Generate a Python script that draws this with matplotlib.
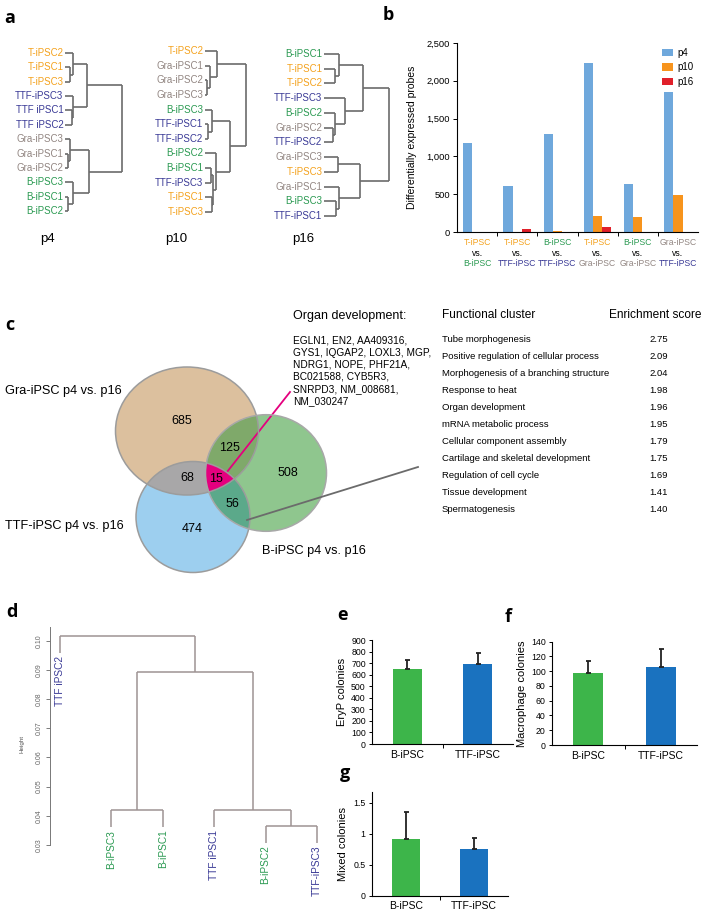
import numpy as np
import matplotlib
matplotlib.use('Agg')
import matplotlib.pyplot as plt
from matplotlib.patches import Ellipse, Polygon, Patch

plt.rcParams['font.family'] = ['Liberation Sans', 'DejaVu Sans']

W, H = 704, 913
fig = plt.figure(figsize=(W / 100, H / 100), dpi=100)


def px_axes(x0, y0, x1, y1):
    return fig.add_axes([x0 / W, 1 - y1 / H, (x1 - x0) / W, (y1 - y0) / H])


ov = px_axes(0, 0, W, H)
ov.set_xlim(0, W)
ov.set_ylim(H, 0)
ov.axis('off')

# ---------------- colours ----------------
C_T, C_TTF, C_GRA, C_B = '#f4a21e', '#3a3a96', '#928682', '#2b9a52'


def name_color(n):
    if n.startswith('TTF'):
        return C_TTF
    if n.startswith('T-'):
        return C_T
    if n.startswith('Gra'):
        return C_GRA
    return C_B

# ---------------- data ----------------
# panel a : dendrograms (left child, right child, merge height)
p4_tree = ((('T-iPSC2', ('T-iPSC1', 'T-iPSC3', 5), 8),
            ('TTF-iPSC3', ('TTF iPSC1', 'TTF iPSC2', 7), 8), 22),
           (('Gra-iPSC3', ('Gra-iPSC1', 'Gra-iPSC2', 3), 5),
            ('B-iPSC3', ('B-iPSC1', 'B-iPSC2', 3), 8), 24), 57)
p10_tree = (('T-iPSC2', ('Gra-iPSC1', ('Gra-iPSC2', 'Gra-iPSC3', 2.3), 5), 12.3),
            (('B-iPSC3', ('TTF-iPSC1', 'TTF-iPSC2', 3.3), 6.7),
             ('B-iPSC2', (('B-iPSC1', 'TTF-iPSC3', 5.7), ('T-iPSC1', 'T-iPSC3', 6.7), 8.3), 11), 25),
            40.7)
p16_tree = ((('B-iPSC1', ('T-iPSC1', 'T-iPSC2', 11), 15),
             ('TTF-iPSC3', ('B-iPSC2', ('Gra-iPSC2', 'TTF-iPSC2', 9), 11), 21), 39),
            (('Gra-iPSC3', 'T-iPSC3', 14),
             ('Gra-iPSC1', ('B-iPSC3', 'TTF-iPSC1', 12), 15), 36), 65)
passages = ['p4', 'p10', 'p16']

# panel b
comp_top = ['T-iPSC', 'T-iPSC', 'B-iPSC', 'T-iPSC', 'B-iPSC', 'Gra-iPSC']
comp_bot = ['B-iPSC', 'TTF-iPSC', 'TTF-iPSC', 'Gra-iPSC', 'Gra-iPSC', 'TTF-iPSC']
probes_p4 = [1175, 610, 1290, 2230, 640, 1850]
probes_p10 = [0, 0, 8, 215, 200, 485]
probes_p16 = [0, 40, 0, 70, 0, 0]

# panel c
venn_counts = {'Gra': 685, 'GraB': 125, 'B': 508, 'GraTTF': 68, 'all': 15, 'TTFB': 56, 'TTF': 474}
venn_sets = ['Gra-iPSC p4 vs. p16', 'TTF-iPSC p4 vs. p16', 'B-iPSC p4 vs. p16']
organ_genes = ['EGLN1, EN2, AA409316,', 'GYS1, IQGAP2, LOXL3, MGP,', 'NDRG1, NOPE, PHF21A,',
               'BC021588, CYB5R3,', 'SNRPD3, NM_008681,', 'NM_030247']
clusters = ['Tube morphogenesis', 'Positive regulation of cellular process',
            'Morphogenesis of a branching structure', 'Response to heat', 'Organ development',
            'mRNA metabolic process', 'Cellular component assembly',
            'Cartilage and skeletal development', 'Regulation of cell cycle',
            'Tissue development', 'Spermatogenesis']
enrichment = [2.75, 2.09, 2.04, 1.98, 1.96, 1.95, 1.79, 1.75, 1.69, 1.41, 1.40]

# panel d
d_tree = ('TTF iPSC2', (('B-iPSC3', 'B-iPSC1', 0.042),
                        ('TTF iPSC1', ('B-iPSC2', 'TTF-iPSC3', 0.0365), 0.042), 0.0892), 0.1018)
d_hang = 0.006
d_ticks = [0.03, 0.04, 0.05, 0.06, 0.07, 0.08, 0.09, 0.10]

# panels e, f, g
lines_cat = ['B-iPSC', 'TTF-iPSC']
eryp = [645, 690]
eryp_err = [85, 100]
macro = [98, 106]
macro_err = [16, 24]
mixed = [0.915, 0.748]
mixed_err = [0.43, 0.18]


# ---------------- dendrogram layout ----------------
def layout(node, leaves, segs, hang=None):
    if isinstance(node, str):
        leaves.append(node)
        return len(leaves) - 1, None
    l, r, h = node
    out = []
    for child in (l, r):
        p, ch = layout(child, leaves, segs, hang)
        if ch is None:
            ch = 0.0 if hang is None else h - hang
            segs.append(('leaf', p, ch, h))
        else:
            segs.append(('link', p, ch, h))
        out.append(p)
    segs.append(('bar', out[0], out[1], h))
    return (out[0] + out[1]) / 2, h


def draw_hdendro(tree, x0, ytop, ybot, xright, lc='#6b6b6b'):
    leaves, segs = [], []
    layout(tree, leaves, segs)
    n = len(leaves)
    dy = (ybot - ytop) / (n - 1)
    ax = px_axes(x0, ytop - dy / 2, xright, ybot + dy / 2)
    ax.set_xlim(0, xright - x0)
    ax.set_ylim(n - 0.5, -0.5)
    ax.axis('off')
    for kind, a, b, c in segs:
        if kind == 'bar':
            ax.plot([c, c], [a, b], color=lc, lw=1.2, clip_on=False, solid_capstyle='butt')
        else:
            ax.plot([b, c], [a, a], color=lc, lw=1.2, clip_on=False, solid_capstyle='butt')
    for i, nm in enumerate(leaves):
        ax.text(-1.5, i, nm, ha='right', va='center', fontsize=7, color=name_color(nm))
    return ax


draw_hdendro(p4_tree, 65, 53, 211, 125)
draw_hdendro(p10_tree, 205, 51, 212, 250)
draw_hdendro(p16_tree, 324, 54, 216, 392)
for t, x in zip(passages, [47.5, 176.5, 303.5]):
    ov.text(x, 239, t, ha='center', va='center', fontsize=9.5)

# ---------------- panel b ----------------
axb = px_axes(457, 43, 698, 232)
xb = np.arange(len(probes_p4))
bw = 0.23
axb.bar(xb - bw, probes_p4, bw, color='#6fa8dc', label='p4')
axb.bar(xb, probes_p10, bw, color='#f7941d', label='p10')
axb.bar(xb + bw, probes_p16, bw, color='#e0202a', label='p16')
axb.set_xlim(-0.5, len(xb) - 0.5)
axb.set_ylim(0, 2500)
axb.set_yticks(np.arange(0, 2501, 500))
axb.set_yticklabels([f'{v:,}' for v in range(0, 2501, 500)])
axb.set_xticks([])
axb.set_xticks(np.arange(0.5, len(xb) - 0.5, 1), minor=True)
axb.tick_params(axis='y', labelsize=6.7, length=3, width=0.7, pad=2)
axb.tick_params(axis='x', which='minor', length=3, width=0.7)
for s in ['top', 'right']:
    axb.spines[s].set_visible(False)
for s in ['left', 'bottom']:
    axb.spines[s].set_linewidth(0.8)
axb.set_ylabel('Differentially expressed probes', fontsize=7.5)
axb.yaxis.set_label_coords(-0.165, 0.5)
axb.legend(loc='upper right', bbox_to_anchor=(1.02, 1.02), frameon=False, fontsize=7,
           handlelength=1.1, handleheight=0.8, labelspacing=0.45, handletextpad=0.5)
tr = axb.get_xaxis_transform()
for i in range(len(xb)):
    axb.text(i, -0.058, comp_top[i], transform=tr, ha='center', va='center', fontsize=6.2,
             color=name_color(comp_top[i]))
    axb.text(i, -0.115, 'vs.', transform=tr, ha='center', va='center', fontsize=6.2)
    axb.text(i, -0.165, comp_bot[i], transform=tr, ha='center', va='center', fontsize=6.2,
             color=name_color(comp_bot[i]))

# ---------------- panel c : Venn ----------------
E_GRA = ((187, 431), 71.5, 64)
E_TTF = ((193, 517), 57, 55.5)
E_B = ((266, 473), 60.5, 58.3)


def region(p, ells, n=720):
    th = np.linspace(0, 2 * np.pi, n)
    dx, dy = np.cos(th), np.sin(th)
    rmin = np.full(n, np.inf)
    for (cx, cy), a, b in ells:
        ux, uy = p[0] - cx, p[1] - cy
        A = (dx / a) ** 2 + (dy / b) ** 2
        B = 2 * (ux * dx / a ** 2 + uy * dy / b ** 2)
        C = (ux / a) ** 2 + (uy / b) ** 2 - 1
        t = (-B + np.sqrt(B * B - 4 * A * C)) / (2 * A)
        rmin = np.minimum(rmin, t)
    return np.column_stack([p[0] + rmin * dx, p[1] + rmin * dy])


for (c, a, b), col in [(E_GRA, '#dcc09e'), (E_TTF, '#9dcfef'), (E_B, '#8fc68e')]:
    ov.add_patch(Ellipse(c, 2 * a, 2 * b, facecolor=col, edgecolor='none', zorder=1))
ov.add_patch(Polygon(region((226, 452), [E_GRA, E_B]), facecolor='#7fa96a', edgecolor='none', zorder=2))
ov.add_patch(Polygon(region((190, 474), [E_GRA, E_TTF]), facecolor='#a8a7a8', edgecolor='none', zorder=2))
ov.add_patch(Polygon(region((229, 495), [E_TTF, E_B]), facecolor='#5ba98a', edgecolor='none', zorder=2))
ov.plot([227, 290], [472, 392], color='#e4007e', lw=1.3, zorder=2.5)
ov.add_patch(Polygon(region((215, 479), [E_GRA, E_TTF, E_B]), facecolor='#e4007e', edgecolor='none', zorder=3))
for (c, a, b), ec in [(E_GRA, '#9c9c9c'), (E_TTF, '#9c9c9c'), (E_B, '#a8a8a8')]:
    ov.add_patch(Ellipse(c, 2 * a, 2 * b, facecolor='none', edgecolor=ec, lw=1.1, zorder=4))
ov.plot([247, 418], [520, 467], color='#6b6b6b', lw=1.3, zorder=5)

vpos = {'Gra': (182, 421), 'GraB': (229, 448), 'B': (288, 473), 'GraTTF': (187, 478),
        'all': (216, 479), 'TTFB': (232, 504), 'TTF': (192, 529)}
for k, v in venn_counts.items():
    ov.text(*vpos[k], str(v), ha='center', va='center', fontsize=9, zorder=6)
ov.text(5, 391, venn_sets[0], ha='left', va='center', fontsize=9.2)
ov.text(5, 526, venn_sets[1], ha='left', va='center', fontsize=9.2)
ov.text(262, 551, venn_sets[2], ha='left', va='center', fontsize=9.2)

ov.text(293, 316, 'Organ development:', ha='left', va='center', fontsize=9)
for i, g in enumerate(organ_genes):
    ov.text(293, 340.7 + i * 12, g, ha='left', va='center', fontsize=7.3)

ov.text(442, 315, 'Functional cluster', ha='left', va='center', fontsize=8.6)
ov.text(609, 315, 'Enrichment score', ha='left', va='center', fontsize=8.6)
for i, (cl, sc) in enumerate(zip(clusters, enrichment)):
    y = 339 + i * 17.04
    ov.text(442, y, cl, ha='left', va='center', fontsize=6.8)
    ov.text(668, y, f'{sc:.2f}', ha='right', va='center', fontsize=6.8)

# ---------------- panel d ----------------
axd = px_axes(50, 627, 330, 860)
leaves, segs = [], []
layout(d_tree, leaves, segs, hang=d_hang)
axd.set_xlim(-0.1946, 5.253)
axd.set_ylim(0.0248, 0.1048)
dcol = '#9e9393'
for kind, a, b, c in segs:
    if kind == 'bar':
        axd.plot([a, b], [c, c], color=dcol, lw=1.1, clip_on=False, solid_capstyle='butt')
    else:
        axd.plot([a, a], [b, c], color=dcol, lw=1.1, clip_on=False, solid_capstyle='butt')
leaf_bottom = {}
for kind, a, b, c in segs:
    if kind == 'leaf':
        leaf_bottom[a] = b
for i, nm in enumerate(leaves):
    axd.text(i, leaf_bottom[i] - 0.0008, nm, rotation=90, ha='center', va='top',
             fontsize=7.3, color=name_color(nm))
for s in ['top', 'right', 'bottom']:
    axd.spines[s].set_visible(False)
axd.spines['left'].set_bounds(0.03, 0.1048)
axd.spines['left'].set_color('#777777')
axd.spines['left'].set_linewidth(0.7)
axd.set_xticks([])
axd.set_yticks(d_ticks)
axd.set_yticklabels([f'{t:.2f}' for t in d_ticks], rotation=90, va='center')
axd.tick_params(axis='y', labelsize=5, length=3, width=0.6, colors='#666666', pad=2)
axd.set_ylabel('Height', fontsize=4.5, color='#555555')
axd.yaxis.set_label_coords(-0.09, 0.5)
axd.patch.set_alpha(0)


# ---------------- panels e, f, g ----------------
def bar_panel(box, vals, errs, ymax, ticks, ticklabels, ylabel, lab_x):
    ax = px_axes(*box)
    x = np.arange(len(vals))
    ax.bar(x, vals, 0.41, color=['#3db54a', '#1a72bf'])
    ax.errorbar(x, vals, yerr=[np.zeros(len(errs)), errs], fmt='none', ecolor='#222222',
                elinewidth=1.3, capsize=1.8, capthick=1.3)
    ax.set_xlim(-0.5, len(vals) - 0.5)
    ax.set_ylim(0, ymax)
    ax.set_yticks(ticks)
    ax.set_yticklabels(ticklabels)
    ax.set_xticks(x)
    ax.set_xticklabels(lines_cat)
    ax.set_xticks([0.5], minor=True)
    ax.tick_params(axis='x', which='major', length=0, labelsize=7.5, pad=4)
    ax.tick_params(axis='x', which='minor', length=3, width=0.7)
    ax.tick_params(axis='y', labelsize=6.3, length=2.5, width=0.7, pad=2)
    for s in ['top', 'right']:
        ax.spines[s].set_visible(False)
    for s in ['left', 'bottom']:
        ax.spines[s].set_linewidth(0.8)
    ax.set_ylabel(ylabel, fontsize=8)
    ax.yaxis.set_label_coords(lab_x, 0.5)
    return ax


bar_panel((372, 640, 513, 744), eryp, eryp_err, 900, np.arange(0, 901, 100),
          [str(v) for v in range(0, 901, 100)], 'EryP colonies', -0.18)
bar_panel((552, 641.7, 697, 745), macro, macro_err, 140, np.arange(0, 141, 20),
          [str(v) for v in range(0, 141, 20)], 'Macrophage colonies', -0.17)
bar_panel((372, 792, 508, 895.7), mixed, mixed_err, 1.67, [0, 0.5, 1, 1.5],
          ['0', '0.5', '1', '1.5'], 'Mixed colonies', -0.18)

# ---------------- panel letters ----------------
for t, (x, y) in {'a': (10, 18), 'b': (388, 15), 'c': (10, 325), 'd': (12, 612),
                  'e': (342, 615), 'f': (508, 617), 'g': (345, 773)}.items():
    ov.text(x, y, t, ha='center', va='center', fontsize=13, fontweight='bold',
            family=['Open Sans', 'DejaVu Sans'])

fig.savefig('out.png', dpi=100)
